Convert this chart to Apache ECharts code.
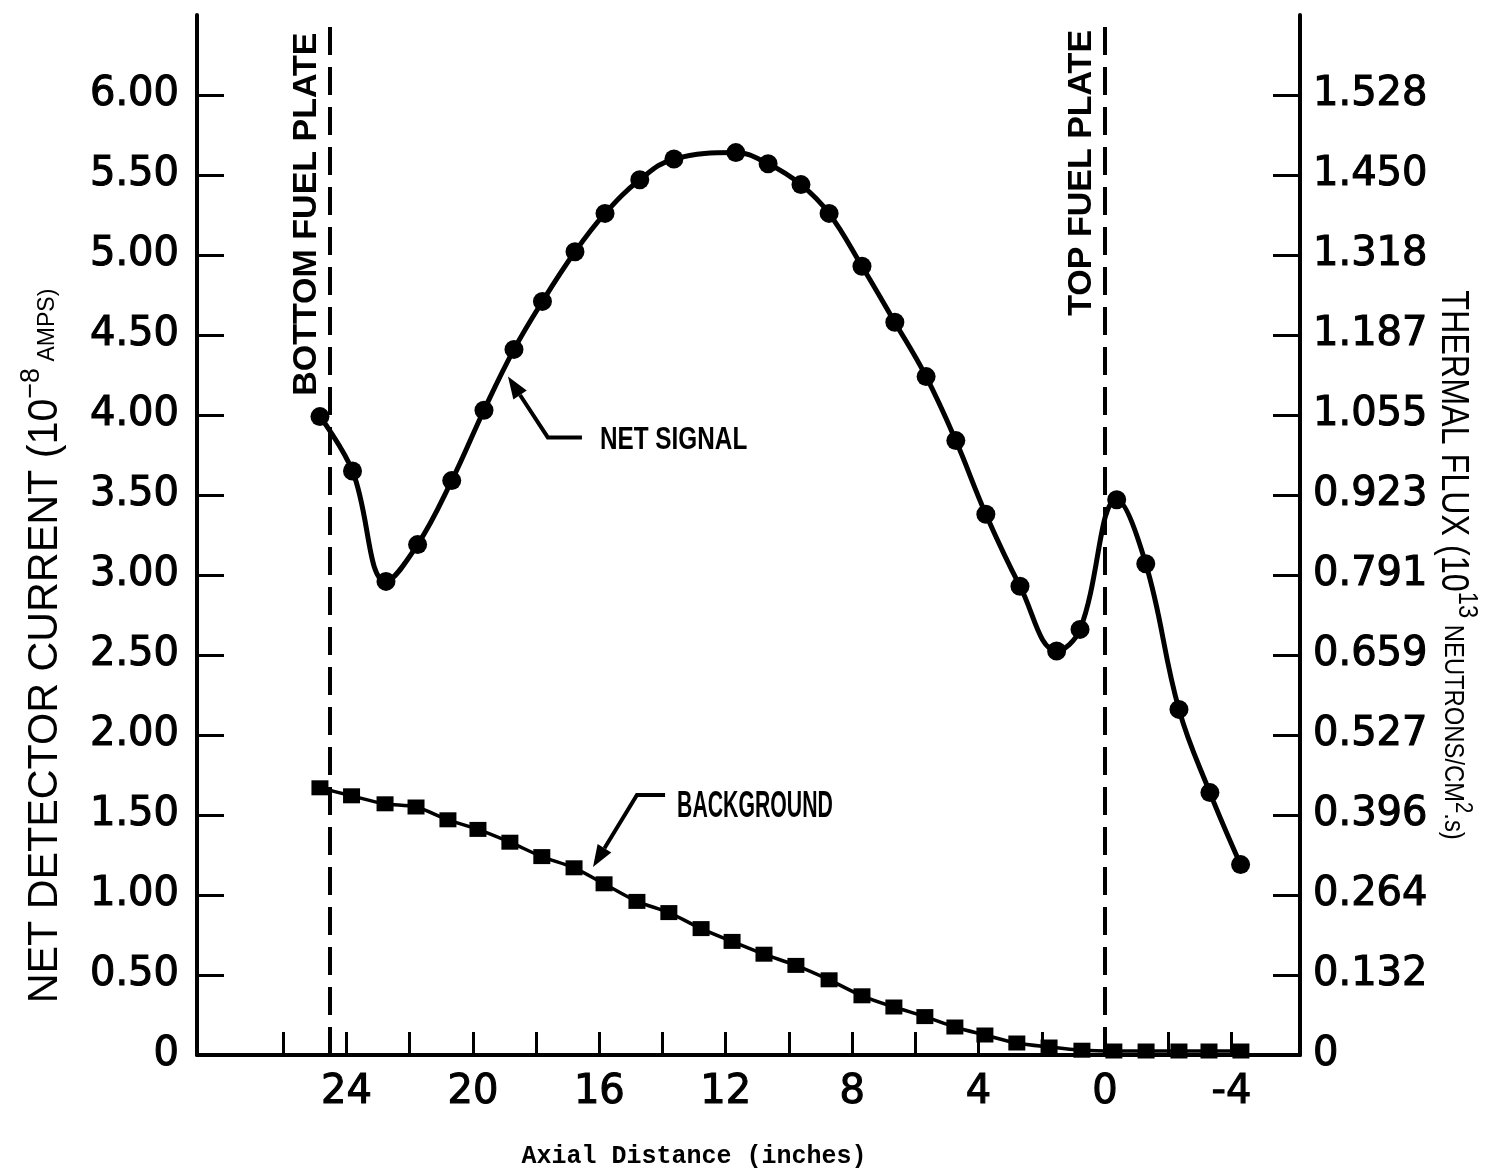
<!DOCTYPE html>
<html><head><meta charset="utf-8">
<script src="https://cdn.jsdelivr.net/npm/echarts@6/dist/echarts.min.js"></script>
<style>html,body{margin:0;padding:0;background:#fff}#c{width:1505px;height:1171px}</style>
</head><body><div id="c"></div>
<script>
// ---- data ----
const netX = [24.84,23.81,22.75,21.75,20.67,19.65,18.7,17.8,16.77,15.82,14.72,13.64,11.68,10.66,9.62,8.73,7.69,6.65,5.66,4.72,3.77,2.69,1.53,0.79,-0.37,-1.29,-2.34,-3.32,-4.29];
const netY = [3.99,3.65,2.96,3.19,3.59,4.03,4.41,4.71,5.02,5.26,5.47,5.60,5.64,5.57,5.44,5.26,4.93,4.58,4.24,3.84,3.38,2.93,2.525,2.66,3.47,3.07,2.16,1.64,1.19];
const bgX = [24.84,23.84,22.78,21.8,20.79,19.84,18.83,17.82,16.8,15.85,14.81,13.8,12.78,11.8,10.79,9.78,8.73,7.69,6.68,5.7,4.75,3.8,2.79,1.77,0.73,-0.28,-1.3,-2.34,-3.29,-4.3];
const bgY = [1.67,1.62,1.57,1.55,1.47,1.41,1.33,1.24,1.17,1.07,0.96,0.89,0.79,0.71,0.63,0.56,0.47,0.37,0.30,0.24,0.175,0.125,0.075,0.05,0.03,0.025,0.025,0.025,0.025,0.025];
const xTickValues = [26,24,22,20,18,16,14,12,10,8,6,4,2,0,-2,-4];
const xLabelValues = [24,20,16,12,8,4,0,-4];
const leftTickValues = [0,0.5,1,1.5,2,2.5,3,3.5,4,4.5,5,5.5,6];
const rightTickLabels = ['0','0.132','0.264','0.396','0.527','0.659','0.791','0.923','1.055','1.187','1.318','1.450','1.528'];
const plateLines = [24.53, 0];
const plateNames = ['BOTTOM FUEL PLATE','TOP FUEL PLATE'];
const plateLabelAnchors = [[25.25,4.12],[0.73,4.62]];
const netArrow = [[16.55,3.86],[17.63,3.86],[18.89,4.24]];
const netLabel = ['NET SIGNAL',[15.98,3.84]];
const bgArrow = [[13.92,1.625],[14.81,1.625],[16.2,1.175]];
const bgLabel = ['BACKGROUND',[13.54,1.55]];

const TICKFONT = "'DejaVu Sans', sans-serif";
const SANS = "'Liberation Sans',Arial,sans-serif";

const chart = echarts.init(document.getElementById('c'), null, {renderer:'canvas'});
const zip = (a,b) => a.map((v,i)=>[v,b[i]]);
const black = '#000';
const tickLabelStyle = {color:black, fontFamily:TICKFONT, fontSize:40, textBorderColor:black, textBorderWidth:1.1};
const yAxisBase = (pos) => ({
  type:'value', min:0, max:6.5, position:pos,
  axisLine:{show:true, onZero:false, lineStyle:{color:black,width:4}},
  axisTick:{show:true, inside:true, length:27, customValues: leftTickValues.slice(1), lineStyle:{color:black,width:3}},
  splitLine:{show:false},
  axisLabel:Object.assign({customValues:leftTickValues, margin:pos==='left'?18:13, padding:[10,0,0,0],
    formatter: pos==='left' ? (v => v===0 ? '0' : v.toFixed(2)) : (v => rightTickLabels[Math.round(v/0.5)])}, tickLabelStyle)
});
chart.setOption({
  animation:false,
  backgroundColor:'#fff',
  grid:{left:197,right:205,top:15,bottom:116},
  xAxis:{type:'value', min:-6.17, max:28.73, inverse:true,
    axisLine:{show:true, onZero:false, lineStyle:{color:black,width:4}},
    axisTick:{show:true, inside:true, length:23, customValues:xTickValues, lineStyle:{color:black,width:3}},
    axisLabel:Object.assign({customValues:xLabelValues, margin:18}, tickLabelStyle),
    splitLine:{show:false}},
  yAxis:[yAxisBase('left'), yAxisBase('right')],
  series:[
    {type:'line', name:'NET SIGNAL', data:zip(netX,netY), smooth:0.4, symbol:'circle', symbolSize:19,
     lineStyle:{color:black,width:5}, itemStyle:{color:black},
     markLine:{silent:true, symbol:'none', label:{show:false},
       lineStyle:{color:black,width:4,type:[28,12]},
       data: plateLines.map(v=>({xAxis:v}))}},
    {type:'line', name:'BACKGROUND', data:zip(bgX,bgY), smooth:0.3, symbol:'rect', symbolSize:[17,15],
     lineStyle:{color:black,width:3.5}, itemStyle:{color:black}}
  ]
});

const px = p => chart.convertToPixel({xAxisIndex:0,yAxisIndex:0}, p);
function arrow(pts){
  const P = pts.map(px);
  const tip = P[P.length-1], prev = P[P.length-2];
  const dx = tip[0]-prev[0], dy = tip[1]-prev[1], L = Math.hypot(dx,dy);
  const ux = dx/L, uy = dy/L, len = 22, hw = 8;
  const bx = tip[0]-ux*len, by = tip[1]-uy*len;
  const linePts = P.slice(0,-1).concat([[bx,by]]);
  return [
    {type:'polyline', shape:{points:linePts}, style:{stroke:black, lineWidth:4, fill:null}},
    {type:'polygon', shape:{points:[tip,[bx-uy*hw,by+ux*hw],[bx+uy*hw,by-ux*hw]]}, style:{fill:black}}
  ];
}
function label(l, size, sx){
  const p = px(l[1]);
  return {type:'text', x:p[0], y:p[1], scaleX:sx, style:{text:l[0], fill:black, font:"bold "+size+"px "+SANS, align:'left', verticalAlign:'middle'}};
}
const graphics = [].concat(arrow(netArrow), arrow(bgArrow), [label(netLabel,32,0.76), label(bgLabel,36,0.59)]);
plateNames.forEach((n,i)=>{
  const p = px(plateLabelAnchors[i]);
  graphics.push({type:'text', x:p[0], y:p[1], rotation:Math.PI/2,
    style:{text:n, fill:black, font:"bold 34px "+SANS, align:'left', verticalAlign:'middle'}});
});
// axis titles
graphics.push({type:'text', x:42, y:646, rotation:Math.PI/2, scaleX:0.96, style:{
  text:'{a|NET DETECTOR CURRENT (10}{s|−8}{b| AMPS)}', align:'center', verticalAlign:'middle', fill:black,
  rich:{a:{fontFamily:SANS, fontSize:43, lineHeight:50, fill:black, verticalAlign:'bottom'},
        s:{fontFamily:SANS, fontSize:28, lineHeight:28, fill:black, verticalAlign:'top'},
        b:{fontFamily:SANS, fontSize:24, lineHeight:24, fill:black, verticalAlign:'bottom', padding:[0,0,8,0]}}}});
graphics.push({type:'text', x:1457, y:565, rotation:-Math.PI/2, scaleX:0.85, style:{
  text:'{a|THERMAL FLUX (10}{s|13}{b| NEUTRONS/CM}{s2|2}{b|.s)}', align:'center', verticalAlign:'middle', fill:black,
  rich:{a:{fontFamily:SANS, fontSize:38, lineHeight:48, fill:black, verticalAlign:'bottom'},
        s:{fontFamily:SANS, fontSize:28, lineHeight:28, fill:black, verticalAlign:'top'},
        s2:{fontFamily:SANS, fontSize:24, lineHeight:24, fill:black, verticalAlign:'top', padding:[6,0,0,0]},
        b:{fontFamily:SANS, fontSize:28, lineHeight:28, fill:black, verticalAlign:'bottom', padding:[0,0,6,0]}}}});
graphics.push({type:'text', x:694, y:1157, style:{text:'Axial Distance (inches)', fill:black,
  font:"bold 25px 'Liberation Mono','DejaVu Sans Mono',monospace", align:'center', verticalAlign:'middle'}});
chart.setOption({graphic:graphics});
</script></body></html>
